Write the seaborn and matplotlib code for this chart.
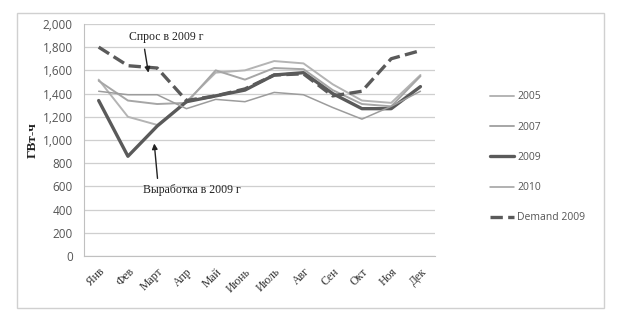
import pandas as pd
import numpy as np
import seaborn as sns
import matplotlib.pyplot as plt
from matplotlib.patches import Rectangle

months = ["Янв", "Фев", "Март", "Апр", "Май", "Июнь", "Июль", "Авг", "Сен", "Окт", "Ноя", "Дек"]
y2005 = [1520, 1200, 1130, 1330, 1580, 1600, 1680, 1660, 1480, 1340, 1320, 1560]
y2007 = [1510, 1340, 1310, 1320, 1600, 1520, 1620, 1610, 1430, 1310, 1290, 1550]
y2009 = [1340, 860, 1120, 1330, 1380, 1430, 1560, 1580, 1400, 1270, 1270, 1460]
y2010 = [1420, 1390, 1390, 1270, 1350, 1330, 1410, 1390, 1280, 1180, 1290, 1420]
demand2009 = [1800, 1640, 1620, 1340, 1380, 1440, 1560, 1570, 1380, 1420, 1700, 1770]

sns.set_style("white")

fig = plt.figure(figsize=(6.18, 3.23), dpi=100)
ax = fig.add_axes([0.136, 0.207, 0.568, 0.719])

# outer frame like the excel chart area
fig.patches.append(Rectangle((17 / 618, 1 - 308 / 323), 587 / 618, 295 / 323,
                             transform=fig.transFigure, fill=False,
                             edgecolor="#d0d0d0", linewidth=1.0))

series = [
    ("2005", y2005, "#b4b4b4", 1.4, "-"),
    ("2007", y2007, "#a6a6a6", 1.4, "-"),
    ("2009", y2009, "#5a5a5a", 2.4, "-"),
    ("2010", y2010, "#9c9c9c", 1.1, "-"),
    ("Demand 2009", demand2009, "#5a5a5a", 2.4, "--"),
]
x = np.arange(len(months))
for name, vals, col, lw, ls in series:
    sns.lineplot(x=x, y=vals, ax=ax, color=col, linewidth=lw, linestyle=ls, label=name)

ax.set_xlim(-0.5, 11.5)
ax.set_ylim(0, 2000)
ax.set_yticks(range(0, 2001, 200))
ax.set_yticklabels([f"{v:,}" for v in range(0, 2001, 200)],
                   fontsize=8.5, color="#555555", family="Open Sans")
ax.set_xticks(x)
ax.set_xticklabels(months, rotation=45, fontsize=8.5, family="Liberation Serif",
                   color="#333333", ha="right", rotation_mode="anchor")
ax.set_xticks(np.arange(-0.5, 12, 1), minor=True)
ax.tick_params(axis="x", which="major", length=0, pad=7)
ax.tick_params(axis="x", which="minor", length=4, color="#c0c0c0", direction="out")
ax.tick_params(axis="y", length=4, color="#c0c0c0", direction="out", pad=4)
ax.grid(axis="y", color="#cfcfcf", linewidth=0.9)
for s in ["top", "right"]:
    ax.spines[s].set_visible(False)
for s in ["left", "bottom"]:
    ax.spines[s].set_color("#c0c0c0")
ax.set_ylabel("ГВт-ч", family="Liberation Serif", fontsize=9.5, fontweight="bold",
              color="#222222", labelpad=3)
ax.set_xlabel("")

ax.annotate("Спрос в 2009 г", xy=(1.7, 1580), xytext=(2.3, 1860),
            fontsize=8.5, family="Liberation Serif", color="#222222", ha="center",
            arrowprops=dict(arrowstyle="-|>", color="#222222", lw=1.0,
                            shrinkA=2, shrinkB=0, mutation_scale=8, relpos=(0.2, 0.0)))
ax.annotate("Выработка в 2009 г", xy=(1.9, 970), xytext=(3.2, 540),
            fontsize=8.5, family="Liberation Serif", color="#222222", ha="center",
            arrowprops=dict(arrowstyle="-|>", color="#222222", lw=1.0,
                            shrinkA=2, shrinkB=0, mutation_scale=8, relpos=(0.15, 1.0)))

leg = ax.legend(loc="upper left", bbox_to_anchor=(1.13, 0.75), frameon=False,
                labelspacing=1.85, handlelength=2.3, handletextpad=0.3,
                labelcolor="#555555", prop={"family": "Open Sans", "size": 7.5})

fig.savefig("out.png", dpi=100)
